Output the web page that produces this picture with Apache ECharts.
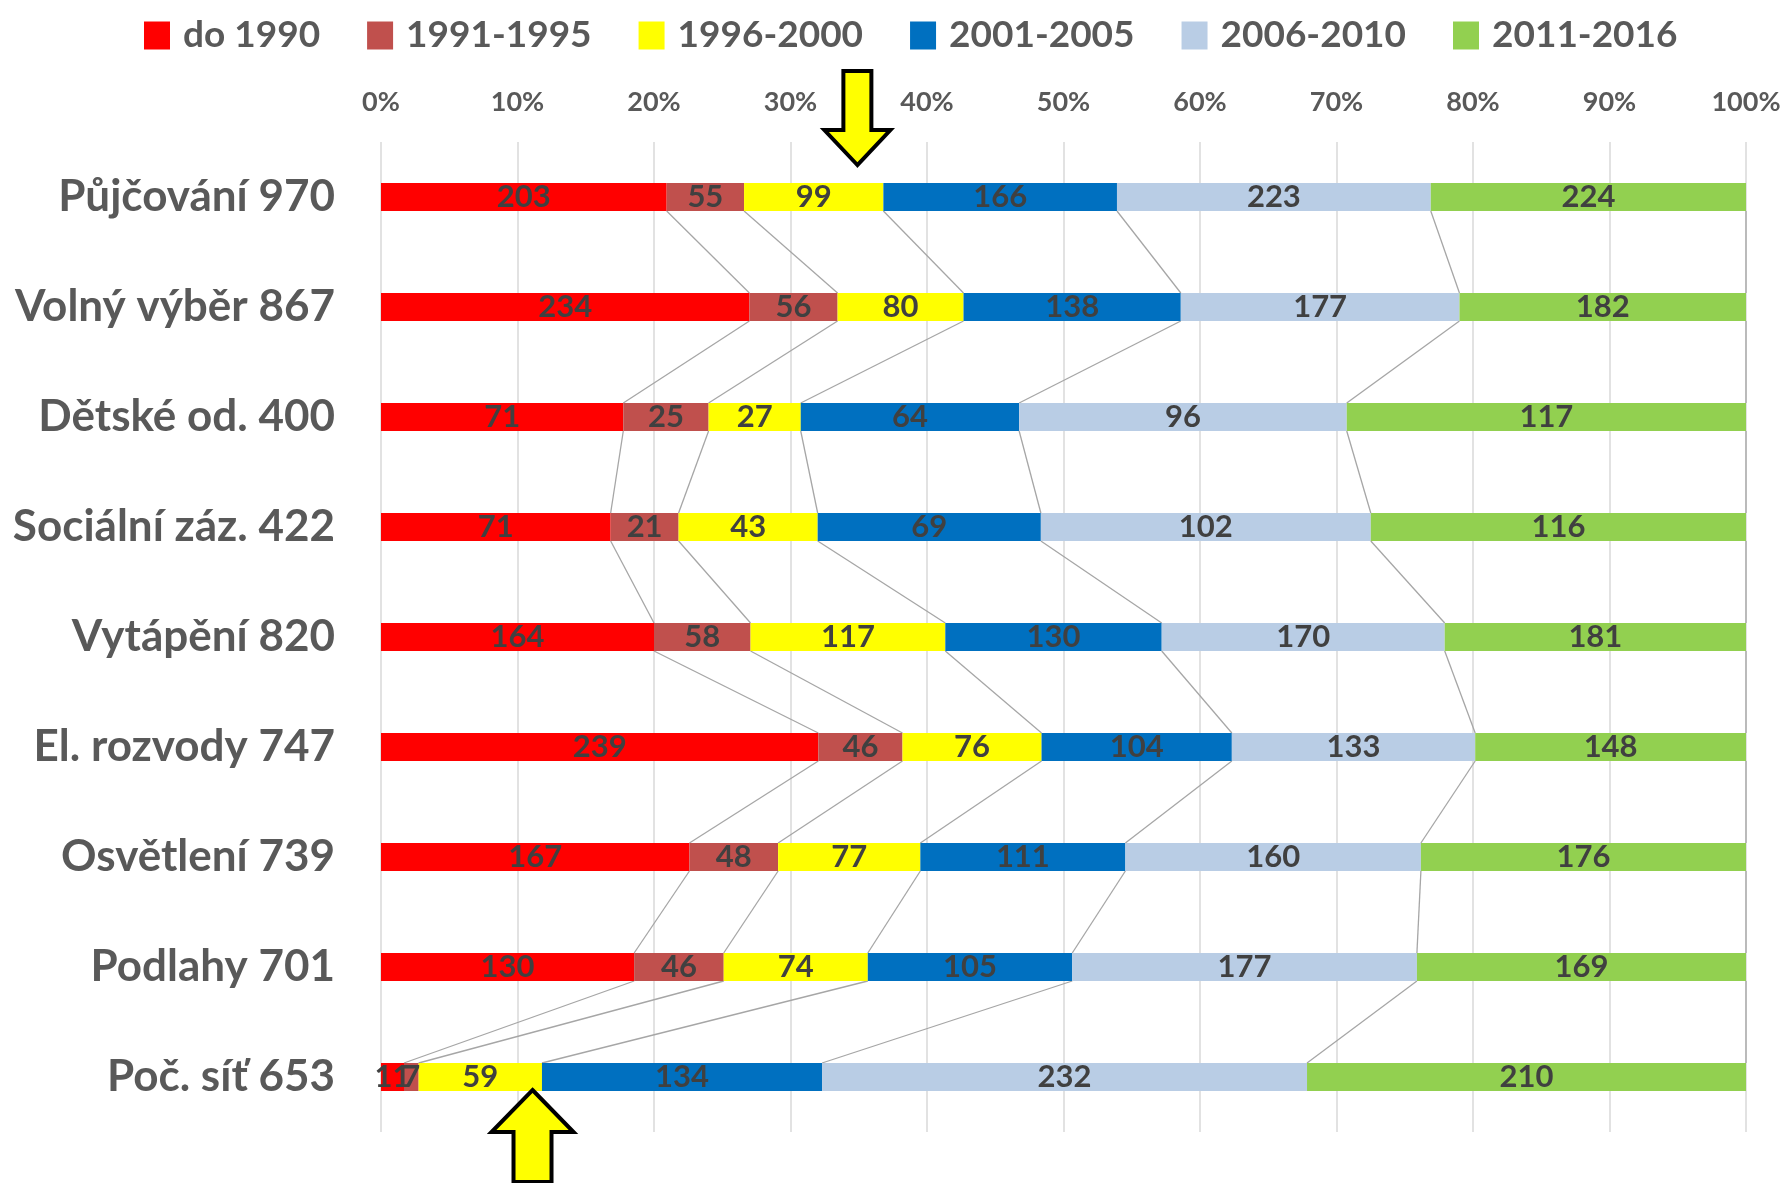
<!DOCTYPE html>
<html>
<head>
<meta charset="utf-8">
<script src="https://cdn.jsdelivr.net/npm/echarts@6/dist/echarts.min.js"></script>
<style>
  html, body { margin: 0; padding: 0; background: #fff; }
  #chart { width: 1789px; height: 1183px; }
</style>
</head>
<body>
<div id="chart"></div>
<script>
const categories = [
  "Půjčování 970", "Volný výběr 867", "Dětské od. 400", "Sociální záz. 422",
  "Vytápění 820", "El. rozvody 747", "Osvětlení 739", "Podlahy 701", "Poč. síť 653"
];
const periods = ["do 1990", "1991-1995", "1996-2000", "2001-2005", "2006-2010", "2011-2016"];
const do1990 = [203, 234, 71, 71, 164, 239, 167, 130, 11];
const y1991_1995 = [55, 56, 25, 21, 58, 46, 48, 46, 7];
const y1996_2000 = [99, 80, 27, 43, 117, 76, 77, 74, 59];
const y2001_2005 = [166, 138, 64, 69, 130, 104, 111, 105, 134];
const y2006_2010 = [223, 177, 96, 102, 170, 133, 160, 177, 232];
const y2011_2016 = [224, 182, 117, 116, 181, 148, 176, 169, 210];
const percentTicks = [0, 10, 20, 30, 40, 50, 60, 70, 80, 90, 100];
// where the two yellow arrows point (percent along the axis)
const arrowDownPct = 34.9;
const arrowUpPct = 11.1;

const colors = ["#FF0000", "#C0504D", "#FFFF00", "#0070C0", "#B9CDE5", "#92D050"];
const allSeries = [do1990, y1991_1995, y1996_2000, y2001_2005, y2006_2010, y2011_2016];
const totals = categories.map((_, i) => allSeries.reduce((s, arr) => s + arr[i], 0));

const BAR_W = 28;
const FONT = "Lato, 'Noto Sans', sans-serif";

// cumulative percent boundaries for each row
const cum = categories.map((_, i) => {
  let acc = 0;
  return allSeries.map(arr => (acc += arr[i] / totals[i] * 100));
});
// series lines between neighbouring bars
const connectors = [];
for (let i = 0; i < categories.length - 1; i++) {
  for (let k = 0; k < allSeries.length; k++) {
    connectors.push([cum[i][k], cum[i + 1][k], i]);
  }
}

const chart = echarts.init(document.getElementById("chart"));

const barSeries = allSeries.map((arr, s) => ({
  name: periods[s],
  type: "bar",
  stack: "total",
  barWidth: BAR_W,
  itemStyle: { color: colors[s] },
  label: {
    show: true,
    position: "inside",
    color: "#404040",
    fontFamily: FONT,
    fontWeight: "bold",
    fontSize: 31,
    formatter: p => arr[p.dataIndex]
  },
  emphasis: { disabled: true },
  data: arr.map((v, i) => v / totals[i] * 100),
  z: 3
}));

chart.setOption({
  animation: false,
  color: colors,
  legend: {
    top: 12,
    left: 139,
    icon: "rect",
    itemWidth: 26,
    itemHeight: 28,
    itemGap: 47,
    textStyle: {
      color: "#595959", fontFamily: FONT, fontWeight: "bold", fontSize: 37,
      padding: [0, 0, 0, 8]
    },
    data: periods
  },
  grid: { left: 381, right: 43, top: 142, bottom: 51 },
  xAxis: {
    type: "value",
    position: "top",
    min: 0,
    max: 100,
    interval: 10,
    axisLine: { show: false },
    axisTick: { show: false },
    splitLine: { lineStyle: { color: "#D9D9D9", width: 1.5 } },
    axisLabel: {
      margin: 26,
      color: "#595959",
      fontFamily: FONT,
      fontWeight: "bold",
      fontSize: 27,
      formatter: v => percentTicks.includes(v) ? v + "%" : ""
    }
  },
  yAxis: {
    type: "category",
    inverse: true,
    data: categories,
    axisLine: { show: false },
    axisTick: { show: false },
    axisLabel: {
      margin: 46,
      color: "#595959",
      fontFamily: FONT,
      fontWeight: "bold",
      fontSize: 44
    }
  },
  series: [
    ...barSeries,
    {
      type: "custom",
      name: "lines",
      z: 1,
      silent: true,
      encode: { x: [0, 1], y: 2 },
      renderItem: (params, api) => {
        const i = api.value(2);
        const a = api.coord([api.value(0), i]);
        const b = api.coord([api.value(1), i + 1]);
        return {
          type: "line",
          shape: { x1: a[0], y1: a[1] + BAR_W / 2, x2: b[0], y2: b[1] - BAR_W / 2 },
          style: { stroke: "#A6A6A6", lineWidth: 1.3 }
        };
      },
      data: connectors
    }
  ]
});

// yellow arrows
const down = chart.convertToPixel({ gridIndex: 0 }, [arrowDownPct, 0]);
const up = chart.convertToPixel({ gridIndex: 0 }, [arrowUpPct, categories.length - 1]);
const downTipY = down[1] - BAR_W / 2 - 18;
const upTipY = up[1] + BAR_W / 2 - 1;
chart.setOption({
  graphic: [
    {
      type: "polygon",
      x: down[0], y: downTipY,
      shape: { points: [[0, 0], [-33, -35], [-14, -35], [-14, -94], [14, -94], [14, -35], [33, -35]] },
      style: { fill: "#FFFF00", stroke: "#000", lineWidth: 4, lineJoin: "miter" },
      z: 10
    },
    {
      type: "polygon",
      x: up[0], y: upTipY,
      shape: { points: [[0, 0], [41, 42], [19, 42], [19, 92], [-19, 92], [-19, 42], [-41, 42]] },
      style: { fill: "#FFFF00", stroke: "#000", lineWidth: 4, lineJoin: "miter" },
      z: 10
    }
  ]
});
</script>
</body>
</html>
